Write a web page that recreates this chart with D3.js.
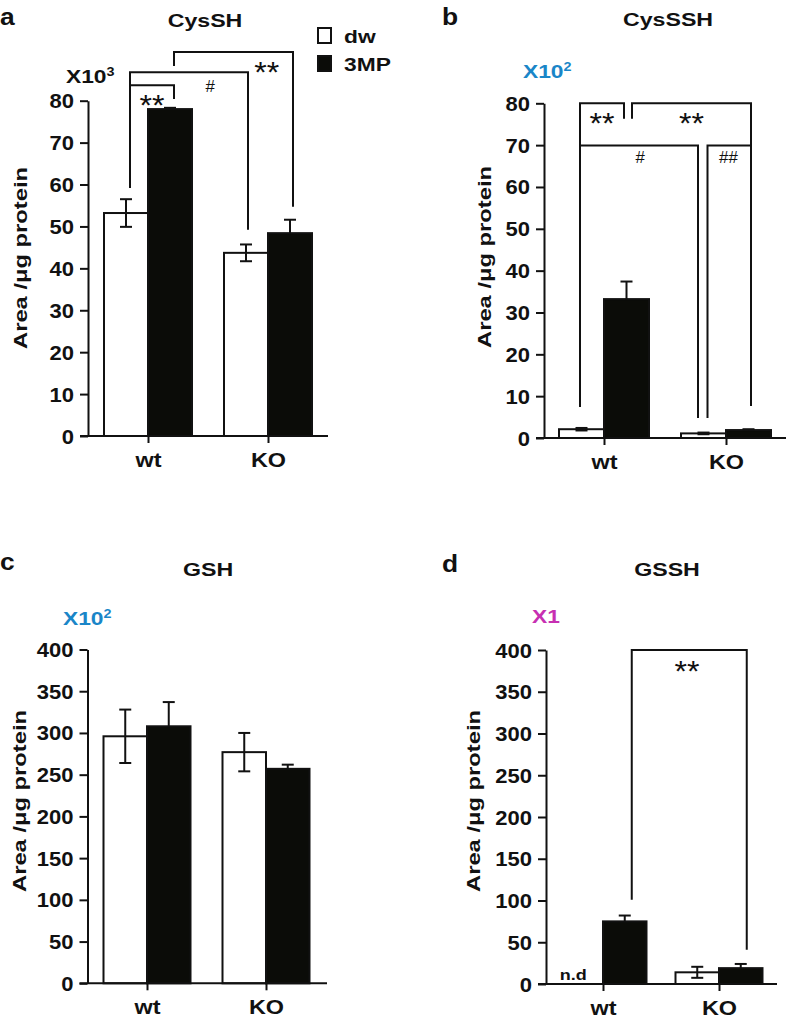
<!DOCTYPE html>
<html><head><meta charset="utf-8">
<script src="https://cdn.jsdelivr.net/npm/d3@7"></script>
<style>body{margin:0;background:#fff} svg{display:block}</style>
</head><body><svg id="c" width="787" height="1022"></svg>
<script>
// ---------- data ----------
const categories = ["wt", "KO"];
const seriesNames = ["dw", "3MP"];
const ticks80 = [0, 10, 20, 30, 40, 50, 60, 70, 80];
const ticks400 = [0, 50, 100, 150, 200, 250, 300, 350, 400];

const cysSH_dw = [53.2, 43.7];   const cysSH_dw_err = [3.3, 2.0];
const cysSH_3mp = [78.0, 48.4];  const cysSH_3mp_err = [0.3, 3.2];
const cysSSH_dw = [2.1, 1.1];    const cysSSH_dw_err = [0.3, 0.2];
const cysSSH_3mp = [33.2, 1.9];  const cysSSH_3mp_err = [4.2, 0.2];
const gsh_dw = [296, 277];       const gsh_dw_err = [32, 23];
const gsh_3mp = [308, 257];      const gsh_3mp_err = [29, 5];
const gssh_dw = [null, 14];      const gssh_dw_err = [null, 6.6];
const gssh_3mp = [75, 19];       const gssh_3mp_err = [7, 5];

// ---------- layout ----------
const FONT = '"Liberation Sans", Arial, Helvetica, sans-serif';
const panels = [
  { letter: "a", title: "CysSH", dw: cysSH_dw, dwErr: cysSH_dw_err, mp: cysSH_3mp, mpErr: cysSH_3mp_err,
    ticks: ticks80, axisX: 88, baseY: 436, topY: 100.7, right: 328, cats: [148, 268], barW: 44,
    letterPos: [0, 25], titlePos: [205, 27], unit: { main: "X10", sup: "3", color: "#111", x: 66, y: 83 },
    ytitle: { x: 27, cy: 258 },
    brackets: [
      { a: [0, 0, 4], b: [0, 1, 4], y: 83.7, l1: 59.2, l2: 80.4, text: "**", t: 0.5, ly: 80.6 },
      { a: [0, 0, 4], b: [1, 0, 2], y: 86.8, l1: 59.2, l2: 49.2, text: "#", t: 0.68, ly: 83.5 },
      { a: [0, 1, 4], b: [1, 1, 3], y: 91.6, l1: 88.3, l2: 54.7, text: "**", t: 0.78, ly: 88.4 }
    ], legend: true },
  { letter: "b", title: "CysSSH", dw: cysSSH_dw, dwErr: cysSSH_dw_err, mp: cysSSH_3mp, mpErr: cysSSH_3mp_err,
    ticks: ticks80, axisX: 544, baseY: 438, topY: 103.3, right: 786, cats: [604, 726], barW: 45,
    letterPos: [442, 25], titlePos: [668, 26], unit: { main: "X10", sup: "2", color: "#1a86c8", x: 523, y: 78 },
    ytitle: { x: 491, cy: 257 },
    brackets: [
      { a: [0, 0, -1.5], b: [0, 1, -2.5], y: 80, l1: 7.4, l2: 76.3, text: "**", t: 0.5, ly: 77.0 },
      { a: [0, 1, 5.5], b: [1, 1, 2.5], y: 80, l1: 76.3, l2: 7.65, text: "**", t: 0.5, ly: 77.0 },
      { a: [0, 0, -1.5], b: [1, 0, -5.5], y: 69.9, l1: 7.4, l2: 4.8, text: "#", t: 0.51, ly: 67.2 },
      { a: [1, 0, 4], b: [1, 1, 2.5], y: 69.9, l1: 4.8, l2: 7.65, text: "##", t: 0.48, ly: 67.2 }
    ] },
  { letter: "c", title: "GSH", dw: gsh_dw, dwErr: gsh_dw_err, mp: gsh_3mp, mpErr: gsh_3mp_err,
    ticks: ticks400, axisX: 87.5, baseY: 983.3, topY: 649.5, right: 327, cats: [147, 266], barW: 43.5,
    letterPos: [0, 570], titlePos: [208, 576], unit: { main: "X10", sup: "2", color: "#1a86c8", x: 63, y: 625 },
    ytitle: { x: 26, cy: 801 }, brackets: [] },
  { letter: "d", title: "GSSH", dw: gssh_dw, dwErr: gssh_dw_err, mp: gssh_3mp, mpErr: gssh_3mp_err,
    ticks: ticks400, axisX: 546, baseY: 984, topY: 650, right: 777, cats: [603, 719], barW: 43.5,
    letterPos: [442, 572], titlePos: [667, 576], unit: { main: "X1", sup: "", color: "#c72fb2", x: 532, y: 623 },
    ytitle: { x: 480, cy: 801 },
    brackets: [
      { a: [0, 1, 7], b: [1, 1, 6], y: 400, l1: 101, l2: 41, text: "**", t: 0.48, ly: 383 }
    ], nd: true }
];

const svg = d3.select("#c");

function label(g, x, y, str, size, o = {}) {
  return g.append("text")
    .attr("transform", `translate(${x},${y}) scale(${o.sx ?? 1.2},1)`)
    .attr("text-anchor", o.anchor || "start")
    .attr("font-size", size)
    .attr("font-weight", o.weight || "bold")
    .attr("fill", o.fill || "#111")
    .style("font-family", FONT)
    .text(str);
}

panels.forEach(p => {
  const g = svg.append("g");
  const y = d3.scaleLinear().domain([0, p.ticks[p.ticks.length - 1]]).range([p.baseY, p.topY]);
  const x = d3.scalePoint().domain(categories).range(p.cats);
  const bc = (ci, si) => x(categories[ci]) + (si === 0 ? -p.barW / 2 : p.barW / 2);

  const rows = [];
  categories.forEach((c, ci) => {
    rows.push({ ci, si: 0, v: p.dw[ci], e: p.dwErr[ci] });
    rows.push({ ci, si: 1, v: p.mp[ci], e: p.mpErr[ci] });
  });
  const valid = rows.filter(d => d.v != null);

  // bars
  g.selectAll("rect.bar").data(valid).join("rect").attr("class", "bar")
    .attr("x", d => d.si === 0 ? x(categories[d.ci]) - p.barW : x(categories[d.ci]))
    .attr("y", d => y(d.v))
    .attr("width", p.barW)
    .attr("height", d => y(0) - y(d.v))
    .attr("fill", d => d.si === 0 ? "#fff" : "#0b0c08")
    .attr("stroke", "#111").attr("stroke-width", 2);

  // error bars
  valid.forEach(d => {
    const cx = bc(d.ci, d.si);
    const lo = d.si === 0 ? d.v - d.e : d.v;
    const hi = d.v + d.e;
    const col = "#111";
    g.append("line").attr("x1", cx).attr("x2", cx).attr("y1", y(lo)).attr("y2", y(hi))
      .attr("stroke", col).attr("stroke-width", 2);
    g.append("line").attr("x1", cx - 6).attr("x2", cx + 6).attr("y1", y(hi)).attr("y2", y(hi))
      .attr("stroke", col).attr("stroke-width", 2);
    if (d.si === 0) g.append("line").attr("x1", cx - 6).attr("x2", cx + 6).attr("y1", y(lo)).attr("y2", y(lo))
      .attr("stroke", col).attr("stroke-width", 2);
  });

  // y axis
  const yg = g.append("g").attr("transform", `translate(${p.axisX},0)`)
    .call(d3.axisLeft(y).tickValues(p.ticks).tickSize(8).tickSizeOuter(0).tickFormat(d3.format("d")));
  yg.attr("font-size", null).attr("font-family", null);
  yg.select(".domain").attr("stroke", "#111").attr("stroke-width", 2);
  yg.selectAll(".tick line").attr("stroke", "#111").attr("stroke-width", 2);
  yg.selectAll(".tick text").attr("x", null).attr("dy", null)
    .attr("transform", "translate(-14,7) scale(1.1,1)")
    .attr("font-size", 20).attr("font-weight", "bold").attr("fill", "#111").style("font-family", FONT);

  // baseline
  g.append("line").attr("x1", p.axisX - 8).attr("x2", p.right).attr("y1", y(0)).attr("y2", y(0))
    .attr("stroke", "#111").attr("stroke-width", 2);

  // x axis ticks + labels
  const xg = g.append("g").attr("transform", `translate(0,${p.baseY})`)
    .call(d3.axisBottom(x).tickSize(7).tickSizeOuter(0));
  xg.attr("font-size", null).attr("font-family", null);
  xg.select(".domain").remove();
  xg.selectAll(".tick line").attr("stroke", "#111").attr("stroke-width", 2);
  xg.selectAll(".tick text").attr("y", null).attr("dy", null)
    .attr("transform", "translate(0,31) scale(1.17,1)")
    .attr("font-size", 20).attr("font-weight", "bold").attr("fill", "#111").style("font-family", FONT);

  // y title
  g.append("text")
    .attr("transform", `translate(${p.ytitle.x},${p.ytitle.cy}) rotate(-90)`)
    .attr("text-anchor", "middle")
    .attr("font-size", 19).attr("font-weight", "bold").attr("fill", "#111")
    .attr("textLength", 182).attr("lengthAdjust", "spacingAndGlyphs")
    .style("font-family", FONT)
    .text("Area /\u03bcg protein");

  // letter, title, unit
  label(g, p.letterPos[0], p.letterPos[1], p.letter, 24, { sx: 1.1 });
  label(g, p.titlePos[0], p.titlePos[1], p.title, 19, { anchor: "middle", sx: 1.22 });
  const u = label(g, p.unit.x, p.unit.y, p.unit.main, 19, { fill: p.unit.color, sx: 1.2 });
  if (p.unit.sup) u.append("tspan").attr("font-size", 12).attr("dy", -7).text(p.unit.sup);

  // brackets
  p.brackets.forEach(b => {
    const x1 = bc(b.a[0], b.a[1]) + b.a[2];
    const x2 = bc(b.b[0], b.b[1]) + b.b[2];
    g.append("path")
      .attr("d", `M${x1},${y(b.l1)}V${y(b.y)}H${x2}V${y(b.l2)}`)
      .attr("fill", "none").attr("stroke", "#111").attr("stroke-width", 2);
    const lx = x1 + b.t * (x2 - x1);
    if (b.text === "**") {
      label(g, lx, y(b.ly) + 17, b.text, 30, { anchor: "middle", weight: "normal", sx: 1.07 });
    } else {
      label(g, lx, y(b.ly) + 6, b.text, 16, { anchor: "middle", weight: "normal", sx: 1.05 });
    }
  });

  if (p.nd) {
    label(g, bc(0, 0) - 8, y(0) - 4, "n.d", 15, { anchor: "middle", sx: 1.2 });
  }

  if (p.legend) {
    const lg = g.append("g");
    seriesNames.forEach((s, i) => {
      lg.append("rect").attr("x", 318).attr("y", 28 + i * 28).attr("width", 13).attr("height", 15)
        .attr("fill", i === 0 ? "#fff" : "#0b0c08").attr("stroke", "#111").attr("stroke-width", 2);
      label(lg, 344, 43 + i * 28, s, 19, { sx: 1.2 });
    });
  }
});
</script>
</body></html>
